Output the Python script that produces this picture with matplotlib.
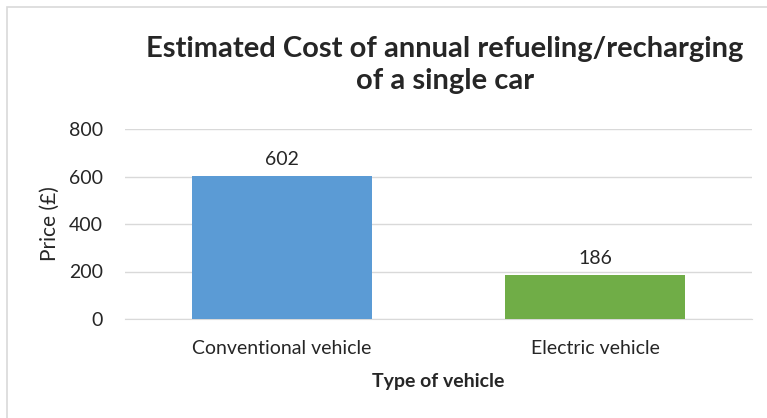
import matplotlib.pyplot as plt
from matplotlib.patches import Rectangle

# chart data
vehicle_types = ["Conventional vehicle", "Electric vehicle"]
prices = [602, 186]
bar_colors = ["#5B9BD5", "#70AD47"]
y_ticks = [0, 200, 400, 600, 800]

plt.rcParams["font.family"] = ["Lato", "DejaVu Sans"]

fig = plt.figure(figsize=(7.67, 4.18), dpi=100)
ax = fig.add_axes([125 / 767, 1 - 319 / 418, 627 / 767, 190 / 418])

# outer chart frame
fig.patches.append(Rectangle((7 / 767, -0.01), 1.0, 1 - 7 / 418 + 0.01,
                             transform=fig.transFigure, fill=False,
                             edgecolor="#d9d9d9", linewidth=1.2))

x = list(range(len(vehicle_types)))
bars = ax.bar(x, prices, width=0.575, color=bar_colors, zorder=3)
for b, v in zip(bars, prices):
    ax.text(b.get_x() + b.get_width() / 2, v + 32, str(v), ha="center",
            va="bottom", fontsize=14, color="#262626")

ax.set_xlim(-0.5, 1.5)
ax.set_ylim(0, 800)
ax.set_yticks(y_ticks)
ax.set_xticks(x)
ax.set_xticklabels(vehicle_types)
ax.tick_params(length=0, labelsize=14, colors="#262626")
ax.tick_params(axis="y", pad=16)
ax.tick_params(axis="x", pad=15)
ax.grid(axis="y", color="#d9d9d9", linewidth=1, zorder=0)
for s in ["top", "right", "left"]:
    ax.spines[s].set_visible(False)
ax.spines["bottom"].set_color("#d9d9d9")

ax.set_ylabel("Price (£)", fontsize=15, color="#262626", labelpad=6)
ax.set_xlabel("Type of vehicle", fontsize=14, fontweight="bold",
              color="#262626", labelpad=12)

fig.text(445 / 767, 1 - 65 / 418,
         "Estimated Cost of annual refueling/recharging\nof a single car",
         ha="center", va="center", fontsize=21, fontweight="bold",
         color="#262626", linespacing=1.25)

fig.savefig("out.png", dpi=100)
